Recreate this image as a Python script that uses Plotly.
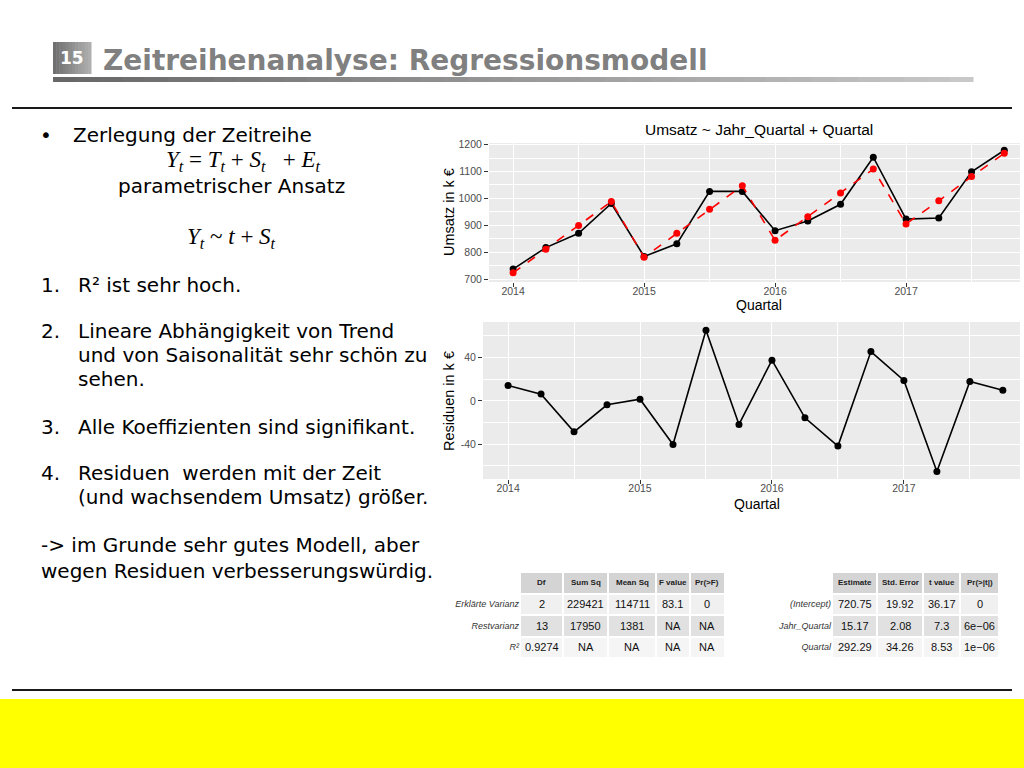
import plotly.graph_objects as go

# ---------------- data ----------------
quartal = [2014.0, 2014.25, 2014.5, 2014.75, 2015.0, 2015.25, 2015.5, 2015.75,
           2016.0, 2016.25, 2016.5, 2016.75, 2017.0, 2017.25, 2017.5, 2017.75]
umsatz = [737, 817, 870, 981, 784, 831, 1026, 1026, 880, 916, 978, 1153, 923, 927, 1099, 1179]
fitted = [723, 811, 899, 988, 781, 870, 960, 1047, 844, 932, 1020, 1109, 905, 991, 1081, 1168]
residuen = [14.2, 6.2, -28.6, -3.7, 1.5, -40.3, 65.2, -21.8, 37.5, -15.7, -41.8, 45.5,
            18.8, -65.2, 17.8, 9.8]

year_ticks = [2014, 2015, 2016, 2017]
umsatz_ticks = [700, 800, 900, 1000, 1100, 1200]
resid_ticks = [-40, 0, 40]
resid_ticktext = ["-40", "0", "40"]

anova_header = ["Df", "Sum Sq", "Mean Sq", "F value", "Pr(>F)"]
anova_rows = ["Erklärte Varianz", "Restvarianz", "R²"]
anova_df = ["2", "13", "0.9274"]
anova_sumsq = ["229421", "17950", "NA"]
anova_meansq = ["114711", "1381", "NA"]
anova_f = ["83.1", "NA", "NA"]
anova_p = ["0", "NA", "NA"]

coef_header = ["Estimate", "Std. Error", "t value", "Pr(>|t|)"]
coef_rows = ["(Intercept)", "Jahr_Quartal", "Quartal"]
coef_est = ["720.75", "15.17", "292.29"]
coef_se = ["19.92", "2.08", "34.26"]
coef_t = ["36.17", "7.3", "8.53"]
coef_p = ["0", "6e\u221206", "1e\u221206"]

slide_title = "Zeitreihenanalyse: Regressionsmodell"
slide_number = "15"
chart_title = "Umsatz ~ Jahr_Quartal + Quartal"

# column widths of the two tables (styling, in px)
anova_colwidths = [43, 45, 47, 34, 35]
coef_colwidths = [45, 46, 37, 39]

# ---------------- helpers ----------------
W, H = 1024, 768
def px(x):
    return x / W
def py(y):
    return 1 - y / H
def edges(widths):
    e = [0]
    for w in widths:
        e.append(e[-1] + w)
    return e

fig = go.Figure()
ann = []

# ---------------- charts ----------------
fig.add_trace(go.Scatter(x=quartal, y=umsatz, mode="lines+markers",
                         line=dict(color="black", width=1.6),
                         marker=dict(color="black", size=7),
                         xaxis="x", yaxis="y", showlegend=False))
fig.add_trace(go.Scatter(x=quartal, y=fitted, mode="lines+markers",
                         line=dict(color="#FF0000", width=1.6, dash="dash"),
                         marker=dict(color="#FF0000", size=7),
                         xaxis="x", yaxis="y", showlegend=False))
fig.add_trace(go.Scatter(x=quartal, y=residuen, mode="lines+markers",
                         line=dict(color="black", width=1.6),
                         marker=dict(color="black", size=7),
                         xaxis="x2", yaxis="y2", showlegend=False))

# ---------------- tables (heatmap cells + text) ----------------
tab_font = "Liberation Sans, Arial, sans-serif"
cs = [[0, "#F0F0F0"], [1 / 3, "#E1E1E1"], [2 / 3, "#F5F5F5"], [1, "#D4D4D4"]]

def add_table(header, rows, cols, widths, xa, ya):
    e = edges(widths)
    ycats = ["hdr"] + rows
    z = [[3] * len(header)] + [[i] * len(header) for i in range(len(rows))]
    fig.add_trace(go.Heatmap(z=z, x=e, y=ycats, colorscale=cs, zmin=0, zmax=3,
                             showscale=False, xgap=2, ygap=2, xaxis=xa, yaxis=ya,
                             hoverinfo="skip"))
    for j, h in enumerate(header):
        xc = (e[j] + e[j + 1]) / 2
        ann.append(dict(x=xc, y="hdr", xref=xa, yref=ya, text="<b>%s</b>" % h,
                        showarrow=False, font=dict(family=tab_font, size=8, color="#222222")))
        for i, r in enumerate(rows):
            ann.append(dict(x=xc, y=r, xref=xa, yref=ya, text=cols[j][i], showarrow=False,
                            font=dict(family=tab_font, size=11, color="#111111")))
    return e[-1]

wa = add_table(anova_header, anova_rows,
               [anova_df, anova_sumsq, anova_meansq, anova_f, anova_p],
               anova_colwidths, "x3", "y3")
wc = add_table(coef_header, coef_rows, [coef_est, coef_se, coef_t, coef_p],
               coef_colwidths, "x4", "y4")

tickfont = dict(family="Liberation Sans, Arial, sans-serif", size=10.5, color="#4d4d4d")
grid_common = dict(showgrid=True, gridcolor="white", gridwidth=1.3, zeroline=False,
                   ticks="outside", ticklen=4, tickcolor="#333333", tickwidth=1,
                   tickfont=tickfont, showline=False, automargin=False)

def table_y(rows):
    return dict(type="category", categoryorder="array", categoryarray=["hdr"] + rows,
                autorange="reversed", tickmode="array", tickvals=["hdr"] + rows,
                ticktext=[" "] + ["<i>%s</i>" % r for r in rows], ticks="",
                tickfont=dict(family=tab_font, size=9, color="#333333"),
                showgrid=False, zeroline=False, showline=False, automargin=False)

fig.update_layout(
    width=W, height=H, margin=dict(l=0, r=0, t=0, b=0, pad=0, autoexpand=False),
    paper_bgcolor="white", plot_bgcolor="white",
    xaxis=dict(domain=[px(489), px(1020)], range=[2013.816, 2017.87],
               tickmode="array", tickvals=year_ticks, ticklabelstandoff=-5,
               minor=dict(tickmode="linear", tick0=2013.5, dtick=1, showgrid=True,
                          gridcolor="white", gridwidth=0.6, ticks=""),
               anchor="y", **grid_common),
    yaxis=dict(domain=[py(282), py(143)], range=[689, 1206],
               tickmode="array", tickvals=umsatz_ticks,
               minor=dict(tickmode="linear", tick0=650, dtick=100, showgrid=True,
                          gridcolor="white", gridwidth=0.6, ticks=""),
               anchor="x", **grid_common),
    xaxis2=dict(domain=[px(483), px(1020)], range=[2013.81, 2017.88],
                tickmode="array", tickvals=year_ticks, ticklabelstandoff=-5,
                minor=dict(tickmode="linear", tick0=2013.5, dtick=1, showgrid=True,
                           gridcolor="white", gridwidth=0.6, ticks=""),
                anchor="y2", **grid_common),
    yaxis2=dict(domain=[py(479), py(322)], range=[-72.2, 72.8],
                tickmode="array", tickvals=resid_ticks, ticktext=resid_ticktext,
                minor=dict(tickmode="linear", tick0=-60, dtick=40, showgrid=True,
                           gridcolor="white", gridwidth=0.6, ticks=""),
                anchor="x2", **grid_common),
    xaxis3=dict(domain=[px(520), px(725)], range=[0, wa], visible=False, anchor="y3",
                automargin=False),
    yaxis3=dict(domain=[py(658), py(572)], anchor="x3", **table_y(anova_rows)),
    xaxis4=dict(domain=[px(832), px(999)], range=[0, wc], visible=False, anchor="y4",
                automargin=False),
    yaxis4=dict(domain=[py(658), py(572)], anchor="x4", **table_y(coef_rows)),
)

# ---------------- shapes ----------------
shapes = []
for xa, ya in (("x", "y"), ("x2", "y2")):
    shapes.append(dict(type="rect", xref=xa + " domain", yref=ya + " domain",
                       x0=0, x1=1, y0=0, y1=1, fillcolor="#EBEBEB",
                       line=dict(width=0), layer="below"))
n = 12
for i in range(n):
    c = int(0x70 + (0xAE - 0x70) * i / (n - 1))
    col = "rgb(%d,%d,%d)" % (c, c, c)
    x0 = 53 + (91 - 53) * i / n
    x1 = 53 + (91 - 53) * (i + 1) / n + 0.5
    shapes.append(dict(type="rect", xref="paper", yref="paper", x0=px(x0), x1=px(x1),
                       y0=py(74), y1=py(42), fillcolor=col, line=dict(width=0), layer="below"))
n = 40
for i in range(n):
    c = int(0x68 + (0xC8 - 0x68) * i / (n - 1))
    col = "rgb(%d,%d,%d)" % (c, c, c)
    x0 = 53 + (973 - 53) * i / n
    x1 = 53 + (973 - 53) * (i + 1) / n + 0.5
    shapes.append(dict(type="rect", xref="paper", yref="paper", x0=px(x0), x1=px(x1),
                       y0=py(82), y1=py(77), fillcolor=col, line=dict(width=0), layer="below"))
shapes.append(dict(type="line", xref="paper", yref="paper", x0=px(12), x1=px(1012),
                   y0=py(108), y1=py(108), line=dict(color="#1a1a1a", width=2)))
shapes.append(dict(type="line", xref="paper", yref="paper", x0=px(12), x1=px(1012),
                   y0=py(690), y1=py(690), line=dict(color="#1a1a1a", width=2)))
shapes.append(dict(type="rect", xref="paper", yref="paper", x0=0, x1=1,
                   y0=0, y1=py(699), fillcolor="#FFFF00", line=dict(width=0), layer="below"))
fig.update_layout(shapes=shapes)

# ---------------- text annotations ----------------
def text(x, y, s, size=20, family="DejaVu Sans, Verdana, sans-serif", color="black",
         xanchor="left", textangle=0):
    ann.append(dict(x=px(x), y=py(y), xref="paper", yref="paper", text=s, showarrow=False,
                    xanchor=xanchor, yanchor="middle", textangle=textangle,
                    font=dict(family=family, size=size, color=color)))

text(72, 58, "<b>%s</b>" % slide_number, size=17, color="white", xanchor="center")
text(101, 60, "<b>%s</b>" % slide_title, size=28, color="#808080")

serif = "Liberation Serif, DejaVu Serif, serif"
sp = "\u00a0"
f1 = ("<i>Y</i><sub><i>t</i></sub>" + sp + "=" + sp + "<i>T</i><sub><i>t</i></sub>" + sp +
      "+" + sp + "<i>S</i><sub><i>t</i></sub>" + sp * 3 + "+" + sp + "<i>E</i><sub><i>t</i></sub>")
f2 = ("<i>Y</i><sub><i>t</i></sub>" + sp + "~" + sp + "<i>t</i>" + sp + "+" + sp +
      "<i>S</i><sub><i>t</i></sub>")

text(38, 135, "•")
text(71, 135, "Zerlegung der Zeitreihe")
text(243, 161, f1, size=23, family=serif, xanchor="center")
text(231, 186, "parametrischer Ansatz", xanchor="center")
text(231, 238, f2, size=23, family=serif, xanchor="center")
text(39, 285, "1.")
text(76, 285, "R² ist sehr hoch.")
text(39, 331, "2.")
text(76, 331, "Lineare Abhängigkeit von Trend")
text(76, 355, "und von Saisonalität sehr schön zu")
text(76, 379, "sehen.")
text(39, 427, "3.")
text(76, 427, "Alle Koeffizienten sind signifikant.")
text(39, 473, "4.")
text(76, 473, "Residuen \u00a0werden mit der Zeit")
text(76, 497, "(und wachsendem Umsatz) größer.")
text(39, 545, "-> im Grunde sehr gutes Modell, aber")
text(39, 571, "wegen Residuen verbesserungswürdig.")

cf = "Liberation Sans, Arial, sans-serif"
text(759, 129, chart_title, size=15.5, family=cf, xanchor="center")
text(759, 305, "Quartal", size=14, family=cf, xanchor="center")
text(757, 504, "Quartal", size=14, family=cf, xanchor="center")
text(449, 212, "Umsatz in k €", size=14.5, family=cf, xanchor="center", textangle=-90)
text(449, 401, "Residuen in k €", size=14.5, family=cf, xanchor="center", textangle=-90)

fig.update_layout(annotations=ann)

fig.write_html("out.html", config={"displayModeBar": False},
               post_script="document.body.style.margin='0';document.body.style.overflow='hidden';")
